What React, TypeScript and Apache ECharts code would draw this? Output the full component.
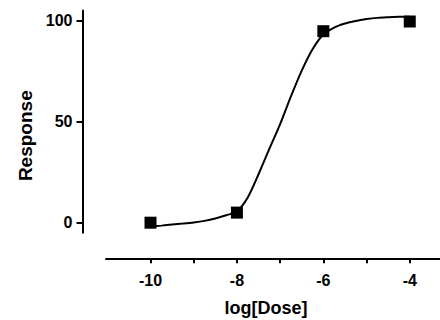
import React, { useEffect, useRef } from "react";
import * as echarts from "echarts";

const doseX: number[] = [-10, -8, -6, -4];
const responseY: number[] = [0, 5, 94.8, 99.6];

const curveX: number[] = [
  -10, -9.75, -9.5, -9.25, -9, -8.75, -8.5, -8.25, -8, -7.75, -7.5, -7.25, -7,
  -6.75, -6.5, -6.25, -6, -5.75, -5.5, -5.25, -5, -4.75, -4.5, -4.25, -4,
];
const curveY: number[] = [
  -2.0, -1.45, -0.9, -0.45, 0.1, 0.9, 2.1, 3.7, 5.6, 12.5, 24, 36.5, 48.8,
  62.5, 75.3, 85.9, 93.2, 96.6, 98.6, 99.9, 100.8, 101.4, 101.7, 101.9, 102.0,
];

const xTickValues: number[] = [-10, -9, -8, -7, -6, -5, -4];
const xLabelValues: number[] = [-10, -8, -6, -4];
const yTickValues: number[] = [0, 50, 100];

const FONT = '"Liberation Sans", Arial, Helvetica, sans-serif';

export default function App() {
  const ref = useRef<HTMLDivElement>(null);
  useEffect(() => {
    if (!ref.current) return;
    const chart = echarts.init(ref.current, null, { renderer: "svg" });
    const axisLine = { show: true, lineStyle: { color: "#000", width: 2 } };
    chart.setOption({
      animation: false,
      backgroundColor: "#fff",
      grid: {
        left: 106,
        right: 0,
        top: 10.6,
        bottom: 87.2,
        containLabel: false,
        outerBoundsMode: "none",
      },
      xAxis: {
        type: "value",
        min: -11.03,
        max: -3.3,
        offset: 25.5,
        axisLine: { ...axisLine, onZero: false },
        splitLine: { show: false },
        axisTick: {
          show: true,
          customValues: xTickValues,
          length: 5,
          lineStyle: { color: "#000", width: 2 },
        },
        axisLabel: {
          customValues: xLabelValues,
          margin: 14,
          color: "#000",
          fontFamily: FONT,
          fontWeight: "bold",
          fontSize: 16,
        },
        name: "log[Dose]",
        nameLocation: "middle",
        nameGap: 41,
        nameTextStyle: {
          color: "#000",
          fontFamily: FONT,
          fontWeight: "bold",
          fontSize: 18,
          padding: [0, 14, 0, 0],
        },
      },
      yAxis: {
        type: "value",
        min: -5,
        max: 105,
        offset: 23.5,
        axisLine: { ...axisLine, onZero: false },
        splitLine: { show: false },
        axisTick: {
          show: true,
          customValues: yTickValues,
          length: 6,
          lineStyle: { color: "#000", width: 2 },
        },
        axisLabel: {
          customValues: yTickValues,
          margin: 10,
          color: "#000",
          fontFamily: FONT,
          fontWeight: "bold",
          fontSize: 16,
        },
        name: "Response",
        nameLocation: "middle",
        nameGap: 46,
        nameTextStyle: {
          color: "#000",
          fontFamily: FONT,
          fontWeight: "bold",
          fontSize: 19,
          padding: [0, 28, 0, 0],
        },
      },
      series: [
        {
          type: "line",
          data: curveX.map((x, i) => [x, curveY[i]]),
          smooth: 0.3,
          showSymbol: false,
          lineStyle: { color: "#000", width: 2 },
          z: 2,
        },
        {
          type: "scatter",
          data: doseX.map((x, i) => [x, responseY[i]]),
          symbol: "rect",
          symbolSize: 12,
          itemStyle: { color: "#000", opacity: 1 },
          z: 3,
        },
      ],
    });
    return () => chart.dispose();
  }, []);
  return (
    <div
      ref={ref}
      style={{ position: "fixed", left: 0, top: 0, width: 440, height: 320 }}
    />
  );
}
